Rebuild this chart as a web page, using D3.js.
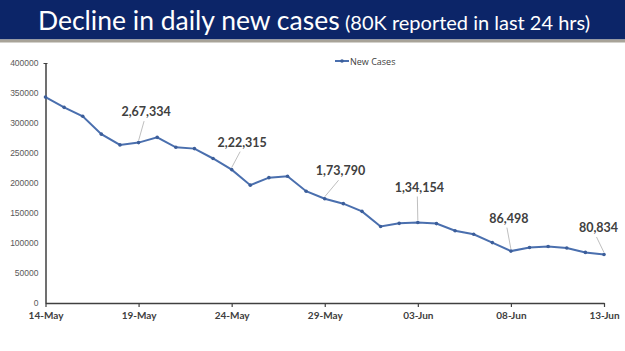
<!DOCTYPE html>
<html><head><meta charset="utf-8">
<script src="https://cdn.jsdelivr.net/npm/d3@7"></script>
<style>
html,body{margin:0;padding:0;background:#fff;}
svg{display:block;}
</style></head>
<body>
<svg id="chart" width="625" height="351"></svg>
<script>
const dates = ["14-May","15-May","16-May","17-May","18-May","19-May","20-May","21-May","22-May","23-May","24-May","25-May","26-May","27-May","28-May","29-May","30-May","31-May","01-Jun","02-Jun","03-Jun","04-Jun","05-Jun","06-Jun","07-Jun","08-Jun","09-Jun","10-Jun","11-Jun","12-Jun","13-Jun"];
const newCases = [343144,326098,311170,281386,263533,267334,276110,259551,257299,240842,222315,196427,208921,211298,186364,173790,165553,152734,127510,132788,134154,132364,120529,114460,100636,86498,92596,94052,91702,84332,80834];
const xTickLabels = ["14-May","19-May","24-May","29-May","03-Jun","08-Jun","13-Jun"];
const yTicks = [0,50000,100000,150000,200000,250000,300000,350000,400000];
const annotated = ["19-May","24-May","29-May","03-Jun","08-Jun","13-Jun"];
const annotationText = ["2,67,334","2,22,315","1,73,790","1,34,154","86,498","80,834"];
const titleMain = "Decline in daily new cases";
const titleSub = "(80K reported in last 24 hrs)";
const legendLabel = "New Cases";

const svg = d3.select("#chart");
// title bar
svg.append("rect").attr("x",0).attr("y",0).attr("width",625).attr("height",39.5).attr("fill","#0c2568");
svg.append("rect").attr("x",0).attr("y",39.5).attr("width",625).attr("height",3).attr("fill","#a8a398");
const tf = "Lato, 'Open Sans', sans-serif";
svg.append("text").attr("x",38).attr("y",29.5).attr("fill","#fff").attr("font-family",tf)
  .attr("font-size",26.5).text(titleMain);
svg.append("text").attr("x",345).attr("y",29.5).attr("fill","#fff").attr("font-family",tf)
  .attr("font-size",20).text(titleSub);

const x = d3.scalePoint().domain(dates).range([45.5,604]);
const y = d3.scaleLinear().domain([0,400000]).range([303,63]);

// y axis
const yAxis = svg.append("g").attr("transform","translate(45.5,0)")
  .call(d3.axisLeft(y).tickValues(yTicks).tickSize(0).tickPadding(7).tickFormat(d3.format("d")));
yAxis.select(".domain").attr("stroke","#404040").attr("stroke-width",1.5);
yAxis.selectAll("text").attr("font-family","'Liberation Sans', Arial, sans-serif").attr("font-size",8.5).attr("fill","#595959");
svg.append("line").attr("x1",43.5).attr("x2",47.5).attr("y1",63.5).attr("y2",63.5).attr("stroke","#404040");

// x axis
const xAxis = svg.append("g").attr("transform","translate(0,303)")
  .call(d3.axisBottom(x).tickValues(xTickLabels).tickSize(4).tickSizeOuter(0).tickPadding(5));
xAxis.select(".domain").attr("stroke","#404040").attr("stroke-width",1.5);
xAxis.selectAll(".tick line").attr("stroke","#404040").attr("stroke-width",1.2);
xAxis.selectAll("text").attr("font-family",tf).attr("font-weight","bold").attr("font-size",10).attr("fill","#404040");

// line
const line = d3.line().x((d,i)=>x(dates[i])).y(d=>y(d));
svg.append("path").datum(newCases).attr("d",line).attr("fill","none").attr("stroke","#4a6fae").attr("stroke-width",2);
svg.selectAll("circle.pt").data(newCases).enter().append("circle").attr("class","pt")
  .attr("cx",(d,i)=>x(dates[i])).attr("cy",d=>y(d)).attr("r",1.8).attr("fill","#3c5e9a");

// annotations: label centre-x offset and baseline offset from the point
const offsets = [[7.5,-26.5],[10.5,-23],[15.8,-23.5],[1.5,-31],[-2,-28.5],[-5.5,-22.5]];
annotated.forEach((dt,k)=>{
  const i = dates.indexOf(dt);
  const px = x(dt), py = y(newCases[i]);
  const lx = px + offsets[k][0], ly = py + offsets[k][1];
  svg.append("line").attr("x1",lx - 2).attr("y1",ly+5).attr("x2",px).attr("y2",py-2)
    .attr("stroke","#bfbfbf").attr("stroke-width",1);
  svg.append("text").attr("x",lx).attr("y",ly).attr("text-anchor","middle")
    .attr("font-family",tf).attr("font-weight","bold").attr("font-size",12.5)
    .attr("fill","#404040").text(annotationText[k]);
});

// legend
const lg = svg.append("g").attr("transform","translate(335,61)");
lg.append("line").attr("x1",0).attr("x2",14).attr("y1",0).attr("y2",0).attr("stroke","#4a6fae").attr("stroke-width",2);
lg.append("circle").attr("cx",7).attr("cy",0).attr("r",1.8).attr("fill","#3c5e9a");
lg.append("text").attr("x",15).attr("y",3.5).attr("font-family","'Open Sans', sans-serif").attr("font-size",9).attr("fill","#404040").text(legendLabel);
</script>
</body></html>
